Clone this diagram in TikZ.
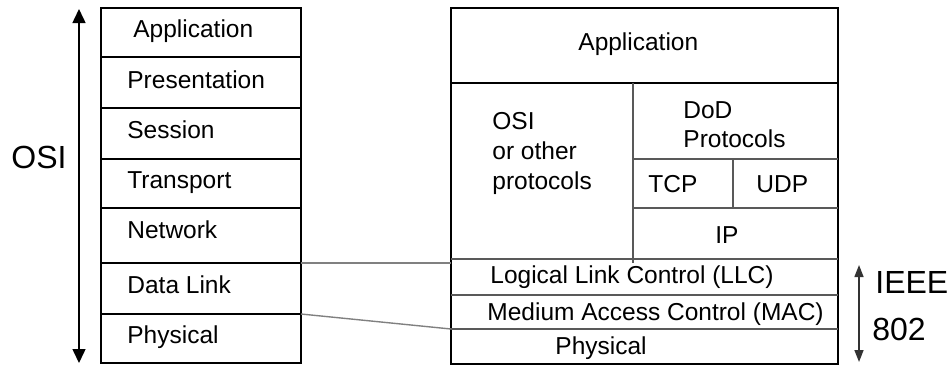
\documentclass[tikz,border=0pt]{standalone}
\usepackage{fontspec}
\setmainfont{Liberation Sans}
\usetikzlibrary{arrows.meta}
\begin{document}
\begin{tikzpicture}[x=0.5pt,y=-0.5pt,
  lbl/.style={anchor=base west, inner sep=0pt, font=\fontsize{12.25}{14}\selectfont},
  big/.style={anchor=base west, inner sep=0pt, font=\fontsize{16}{19}\selectfont},
  cell/.style={draw=black, line width=0.75pt},
  inner/.style={draw=black!65, line width=0.75pt},
  link/.style={draw=black!50, line width=0.7pt},
  dblarrow/.style={line width=0.75pt, {Triangle[width=6.5pt,length=7pt]}-{Triangle[width=6.5pt,length=7pt]}},
  smallarrow/.style={draw=black!80, line width=0.75pt, {Triangle[width=4.5pt,length=6pt]}-{Triangle[width=4.5pt,length=6pt]}}]
\useasboundingbox (0,0) rectangle (952,365);

% ---- left OSI stack ----
\draw[cell] (101,8) rectangle (301,363);
\foreach \y in {57,108,159,208,263,314} \draw[cell] (101,\y) -- (301,\y);
\node[lbl] (lapp) at (133,37) {Application};
\node[lbl] (lpres) at (127,88) {Presentation};
\node[lbl] (lsess) at (127,138) {Session};
\node[lbl] (ltrans) at (127,188) {Transport};
\node[lbl] (lnet) at (127,238) {Network};
\node[lbl] (ldl) at (127,293) {Data Link};
\node[lbl] (lphy) at (127,343) {Physical};

\coordinate (ositop) at (79,9);
\coordinate (osibot) at (79,363);
\draw[dblarrow] (ositop) -- (osibot);
\node[big] (osi) at (11,168) {OSI};

% ---- right stack ----
\draw[cell] (451,8) rectangle (838,364);
\draw[cell] (451,83) -- (838,83);
\draw[inner] (633,83) -- (633,263);
\draw[inner] (633,159) -- (838,159);
\draw[inner] (733,159) -- (733,208);
\draw[inner] (633,208) -- (838,208);
\draw[inner] (451,259) -- (838,259);
\draw[inner] (451,295) -- (838,295);
\draw[inner] (451,329) -- (838,329);

\node[lbl] (rapp) at (578,50) {Application};
\node[lbl] (rosi1) at (492,129) {OSI};
\node[lbl] (rosi2) at (492,159) {or other};
\node[lbl] (rosi3) at (492,189) {protocols};
\node[lbl] (dod1) at (683,118) {DoD};
\node[lbl] (dod2) at (683,147) {Protocols};
\node[lbl] (tcp) at (648,192) {TCP};
\node[lbl] (udp) at (756,192) {UDP};
\node[lbl] (ip) at (715,243) {IP};
\node[lbl] (llc) at (490,283) {Logical Link Control (LLC)};
\node[lbl] (mac) at (487,320) {Medium Access Control (MAC)};
\node[lbl] (rphy) at (555,354) {Physical};

% ---- connectors ----
\coordinate (dltop) at (301,263);
\coordinate (dlbot) at (301,314);
\coordinate (llcl) at (451,263);
\coordinate (macl) at (451,329);
\draw[link] (dltop) -- (llcl);
\draw[link] (dlbot) -- (macl);

% ---- IEEE 802 ----
\coordinate (ieeetop) at (859,265);
\coordinate (ieeebot) at (859,362);
\draw[smallarrow] (ieeetop) -- (ieeebot);
\node[big] (ieee) at (875,293) {IEEE};
\node[big] (n802) at (872,340) {802};
\end{tikzpicture}
\end{document}
